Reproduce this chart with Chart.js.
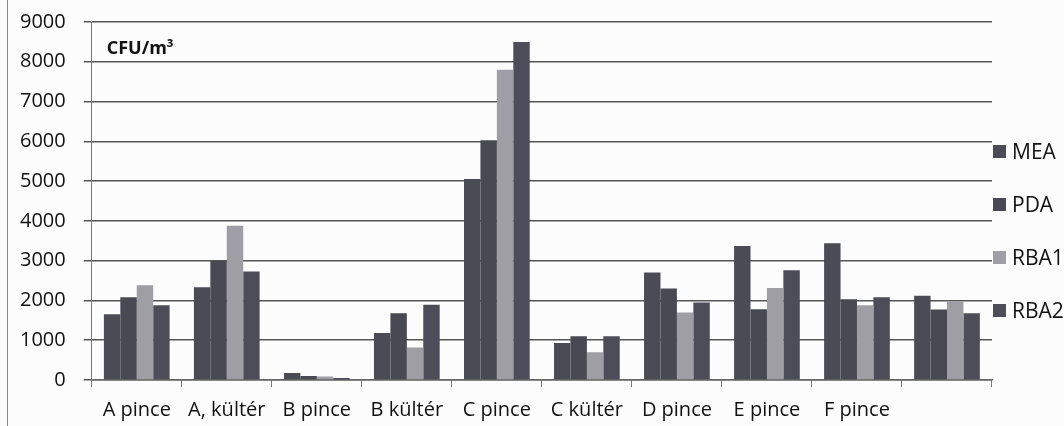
<!DOCTYPE html>
<html>
<head>
<meta charset="utf-8">
<script src="https://cdn.jsdelivr.net/npm/chart.js@4/dist/chart.umd.min.js"></script>
<style>
  html, body { margin: 0; padding: 0; background: #fcfcfc; overflow: hidden; }
  #wrap { position: relative; width: 1064px; height: 426px; overflow: hidden; }
  #inner { position: absolute; left: 0; top: -8px; width: 1064px; height: 441px; }
</style>
</head>
<body>
<div id="wrap"><div id="inner"><canvas id="cfu"></canvas></div></div>
<script>
// sampling sites (last one is unlabeled in the original)
const categories = ['A pince', 'A, kültér', 'B pince', 'B kültér', 'C pince', 'C kültér', 'D pince', 'E pince', 'F pince', ''];

// CFU/m3 per medium
const meaValues  = [1650, 2330, 175, 1180, 5050, 930, 2700, 3370, 3440, 2120];
const pdaValues  = [2080, 3000, 100, 1680, 6030, 1100, 2300, 1780, 2030, 1770];
const rba1Values = [2380, 3880, 90, 820, 7800, 700, 1700, 2310, 1880, 1970];
const rba2Values = [1880, 2730, 50, 1890, 8500, 1100, 1950, 2760, 2080, 1680];

const seriesLabels = ['MEA', 'PDA', 'RBA1', 'RBA2'];
const seriesColors = ['#4b4b56', '#494953', '#9e9ea4', '#4d4d5a'];

const yTicks = { min: 0, max: 9000, step: 1000 };

const FONT = "'Open Sans', 'Liberation Sans', sans-serif";
const TEXT = '#111';

// legend on the right + unit label + scan border
const decorPlugin = {
    id: 'decor',
    afterDraw(chart) {
        const ctx = chart.ctx;
        const area = chart.chartArea;
        ctx.save();

        // page edge from the scan
        ctx.strokeStyle = '#888';
        ctx.lineWidth = 1;
        ctx.beginPath();
        ctx.moveTo(7.5, 0);
        ctx.lineTo(7.5, chart.height);
        ctx.stroke();

        // unit label
        ctx.fillStyle = TEXT;
        ctx.font = 'bold 18px ' + FONT;
        ctx.textBaseline = 'middle';
        ctx.fillText('CFU/m³', area.left + 15, area.top + 27);

        // legend
        ctx.font = '21px ' + FONT;
        chart.data.datasets.forEach((ds, i) => {
            const y = area.top + 130 + i * 53;
            ctx.fillStyle = ds.backgroundColor;
            ctx.fillRect(area.right + 1, y - 7, 13, 13);
            ctx.fillStyle = TEXT;
            ctx.fillText(ds.label, area.right + 20, y + 1);
        });
        ctx.restore();
    }
};

const datasets = [meaValues, pdaValues, rba1Values, rba2Values].map((vals, i) => ({
    label: seriesLabels[i],
    data: vals,
    backgroundColor: seriesColors[i],
    borderWidth: 0,
    categoryPercentage: 0.73,
    barPercentage: 1.0
}));

new Chart(document.getElementById('cfu'), {
    type: 'bar',
    data: { labels: categories, datasets: datasets },
    options: {
        responsive: true,
        maintainAspectRatio: false,
        animation: false,
        layout: { padding: { top: 0, right: 72, left: 2, bottom: 0 } },
        plugins: {
            legend: { display: false },
            tooltip: { enabled: false }
        },
        scales: {
            x: {
                grid: {
                    offset: true,
                    drawOnChartArea: false,
                    drawTicks: true,
                    tickLength: 7,
                    color: '#777'
                },
                border: { display: true, color: '#666', width: 1.5 },
                ticks: { color: TEXT, font: { family: FONT, size: 20 }, padding: 11, maxRotation: 0, autoSkip: false }
            },
            y: {
                min: yTicks.min,
                max: yTicks.max,
                ticks: {
                    stepSize: yTicks.step,
                    color: TEXT,
                    font: { family: FONT, size: 20 },
                    padding: 18,
                    callback: v => String(v)
                },
                grid: { color: '#555', lineWidth: 1.5, tickLength: 8 },
                border: { display: true, color: '#777', width: 1 }
            }
        }
    },
    plugins: [decorPlugin]
});
</script>
</body>
</html>
